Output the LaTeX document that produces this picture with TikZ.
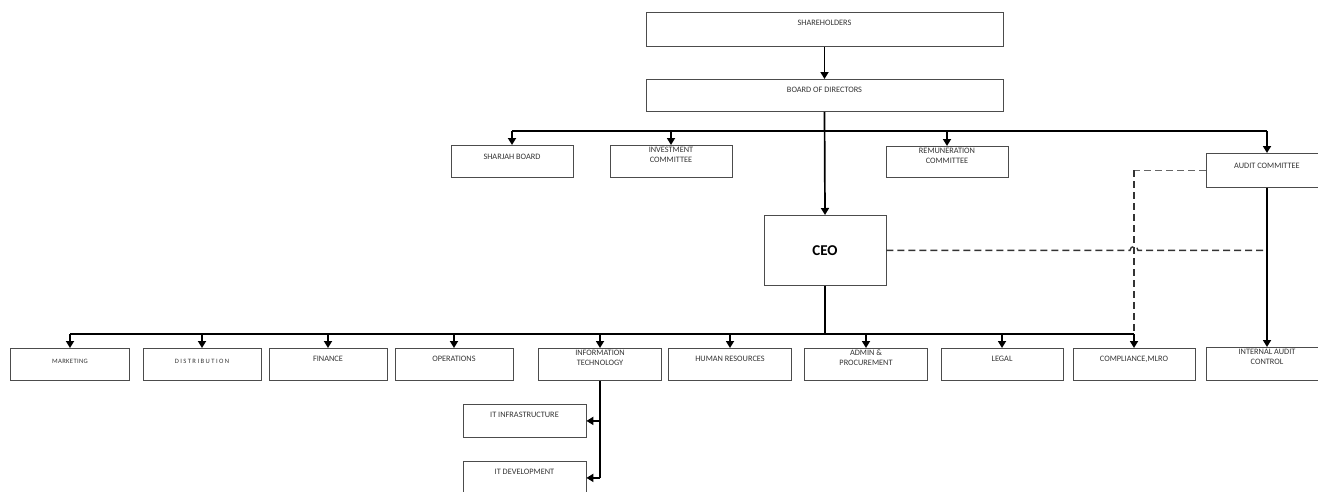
\documentclass[tikz,border=0pt]{standalone}
\usepackage{fontspec}
\setmainfont{Carlito}
\usetikzlibrary{arrows.meta}

\begin{document}
\begin{tikzpicture}[x=1pt,y=-1pt]
		\tikzstyle{every node}+=[inner sep=0pt]
		\tikzstyle{box}=[draw=black!70, line width=0.8pt, anchor=north, minimum width=123pt, align=center, text=black!80, font=\fontsize{8.3}{10}\selectfont, text height=13pt, text depth=19pt]
		\tikzstyle{boxtwo}=[box, text height=17pt, text depth=15pt]
		\tikzstyle{tiny}=[font=\fontsize{6.6}{8}\selectfont\addfontfeature{LetterSpace=5}]
		\tikzstyle{conn}=[line width=1.7pt]
		\tikzstyle{arr}=[conn, -{Triangle[length=7pt,width=8pt]}]
		\tikzstyle{dashline}=[line width=1.4pt, dash pattern=on 7pt off 4pt, black!80]
		\useasboundingbox (0,0) rectangle (1318,491);
		\node[box, minimum width=357pt, text depth=21pt] (share) at (824.5,12) {SHAREHOLDERS};
		\node[box, minimum width=357pt] (board) at (824.5,79) {BOARD OF DIRECTORS};
		\node[box, minimum width=122pt, text height=14pt, text depth=18pt] (sharjah) at (512,145) {SHARJAH BOARD};
		\node[boxtwo, minimum width=122pt] (invest) at (671,145) {INVESTMENT\\COMMITTEE};
		\node[boxtwo, minimum width=122pt, text depth=14pt] (remun) at (947,146) {REMUNERATION\\COMMITTEE};
		\node[box, minimum width=122pt, text height=15pt, text depth=19pt] (audit) at (1267,153) {AUDIT COMMITTEE};
		\node[draw=black!70, line width=0.8pt, anchor=north, minimum width=122pt, minimum height=70pt, font=\fontsize{15}{18}\selectfont\bfseries] (ceo) at (825,215) {CEO};
		\node[box, tiny, minimum width=119pt, text height=15pt, text depth=17pt] (market) at (70,348) {MARKETING};
		\node[box, minimum width=118pt, text height=15pt, text depth=17pt, font=\fontsize{6.6}{8}\selectfont\addfontfeature{LetterSpace=22}] (distrib) at (202,348) {DISTRIBUTION};
		\node[box, minimum width=118pt] (finance) at (328,348) {FINANCE};
		\node[box, minimum width=118pt] (oper) at (454,348) {OPERATIONS};
		\node[boxtwo] (infotech) at (600,348) {INFORMATION\\TECHNOLOGY};
		\node[box] (human) at (730,348) {HUMAN RESOURCES};
		\node[boxtwo] (admin) at (866,348) {ADMIN \&\\PROCUREMENT};
		\node[box, minimum width=122pt] (legal) at (1002,348) {LEGAL};
		\node[box, minimum width=122pt] (compl) at (1134,348) {COMPLIANCE,MLRO};
		\node[boxtwo, minimum width=122pt, text depth=16pt] (intaudit) at (1267,347) {INTERNAL AUDIT\\CONTROL};
		\node[box, text depth=20pt] (itinfra) at (524.5,404) {IT INFRASTRUCTURE};
		\node[box, text depth=20pt] (itdev) at (524.5,461) {IT DEVELOPMENT};
		\coordinate (topbus) at (0,131);
		\coordinate (lowbus) at (0,334);
		\draw[arr] (share.south) -- (board.north);
		\draw[arr] (board.south) -- (ceo.north);
		\draw[conn] (sharjah.north |- topbus) -- (audit.north |- topbus);
		\foreach \n in {sharjah,invest,remun,audit}
			\draw[arr] (\n.north |- topbus) -- (\n.north);
		\draw[conn] (ceo.south) -- (ceo.south |- lowbus);
		\draw[conn] (market.north |- lowbus) -- (compl.north |- lowbus);
		\foreach \n in {market,distrib,finance,oper,infotech,human,admin,legal,compl}
			\draw[arr] (\n.north |- lowbus) -- (\n.north);
		\draw[arr] (audit.south) -- (intaudit.north);
		\draw[conn] (infotech.south) -- (infotech.south |- itdev.east);
		\draw[arr] (infotech.south |- itinfra.east) -- (itinfra.east);
		\draw[arr] (infotech.south |- itdev.east) -- (itdev.east);
		\draw[dashline, line width=0.7pt, black!60] (audit.west) -- (compl.north |- audit.west);
		\draw[dashline] (compl.north |- audit.west) -- (compl.north |- lowbus);
		\draw[dashline] (ceo.east) -- ([xshift=-4pt]compl.north |- ceo.east) arc[start angle=180, end angle=0, radius=4pt] -- (audit.south |- ceo.east);
\end{tikzpicture}
\end{document}
